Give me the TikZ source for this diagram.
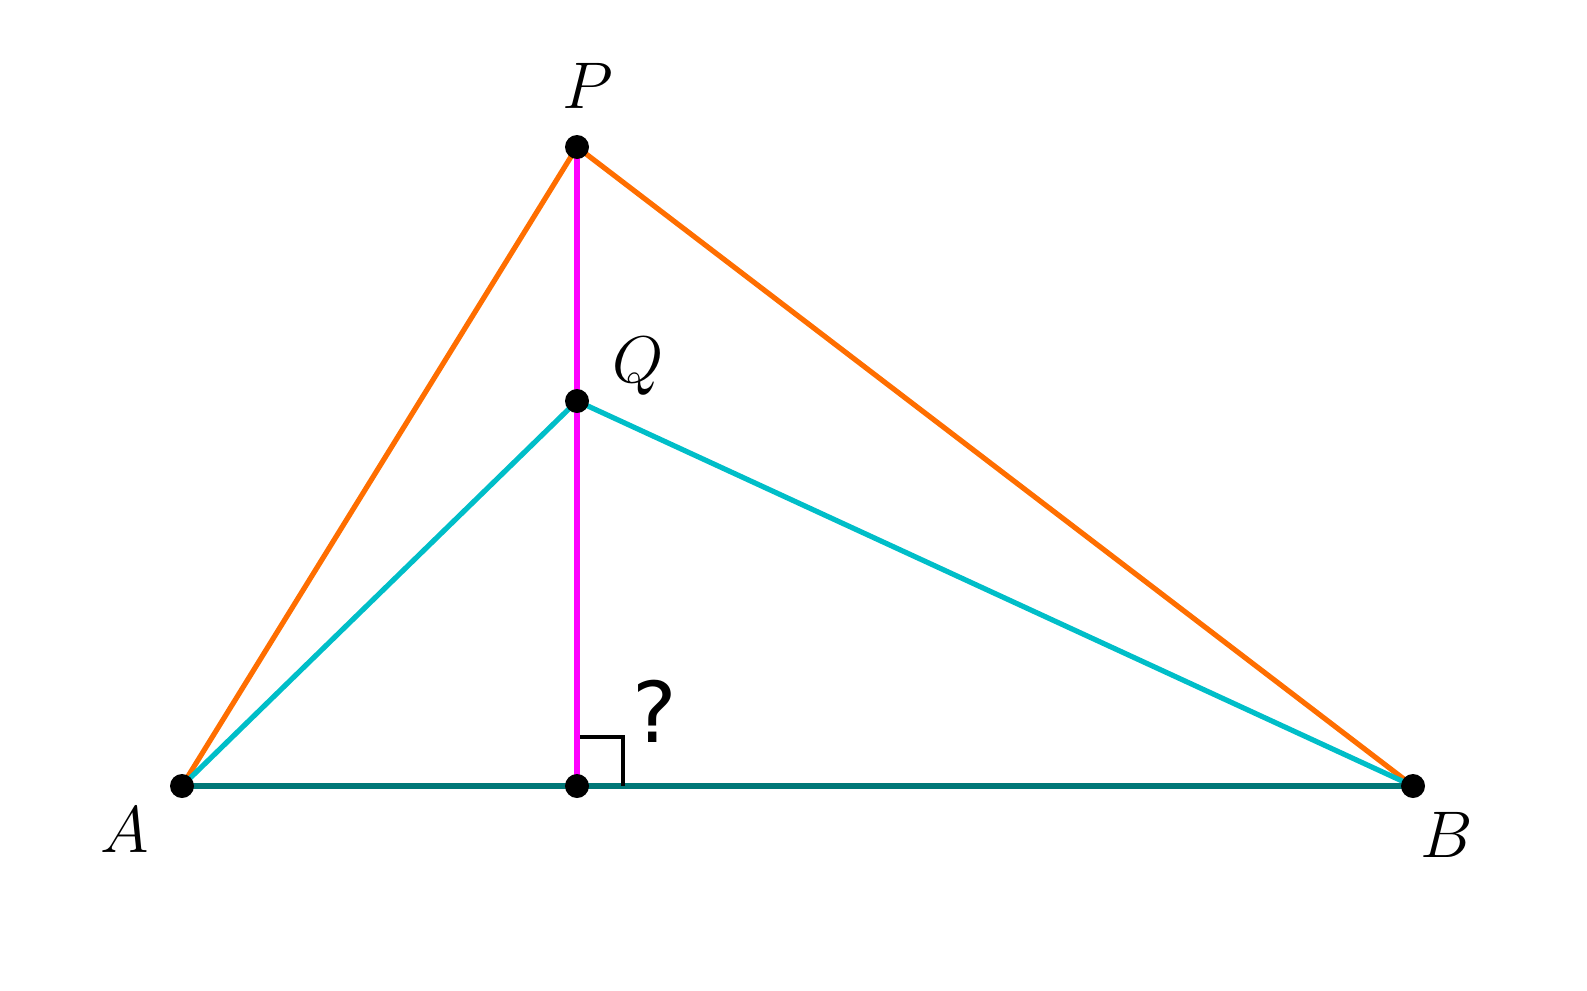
\RequirePackage{fix-cm}
\documentclass[tikz,border=0pt]{standalone}
\usepackage{fontspec}
\begin{document}
\begin{tikzpicture}[x=0.5pt,y=-0.5pt,
  seg/.style={line width=2.6pt},
  dot/.style={circle,fill=black,inner sep=0pt,minimum size=12pt},
  lbl/.style={font=\fontsize{33}{40}\selectfont}]
\definecolor{orng}{RGB}{255,110,0}
\definecolor{cyn}{RGB}{0,190,200}
\definecolor{tealc}{RGB}{0,120,120}
\definecolor{mag}{RGB}{255,0,255}
\useasboundingbox (0,0) rectangle (1587,991);
\coordinate (A) at (182,786);
\coordinate (B) at (1413,786);
\coordinate (P) at (577,147);
\coordinate (Q) at (577,401);
\coordinate (F) at (577,786);
\draw[seg,orng] (A) -- (P) -- (B);
\draw[seg,cyn] (A) -- (Q) -- (B);
\draw[seg,mag] (P) -- (F);
\draw[seg,tealc] (A) -- (B);
\draw[line width=2.4pt] (580,737) -- (623,737) -- (623,786);
\node[dot] (dA) at (A) {};
\node[dot] (dB) at (B) {};
\node[dot] (dP) at (P) {};
\node[dot] (dQ) at (Q) {};
\node[dot] (dF) at (F) {};
\node[lbl] (lP) at (588,86) {$P$};
\node[lbl] (lQ) at (638,366) {$Q$};
\node[lbl] (lA) at (125,830) {$A$};
\node[lbl] (lB) at (1447,835) {$B$};
\node[font=\fontsize{42}{48}\selectfont\fontspec{DejaVu Sans}] (qm) at (655,711) {?};
\end{tikzpicture}
\end{document}
